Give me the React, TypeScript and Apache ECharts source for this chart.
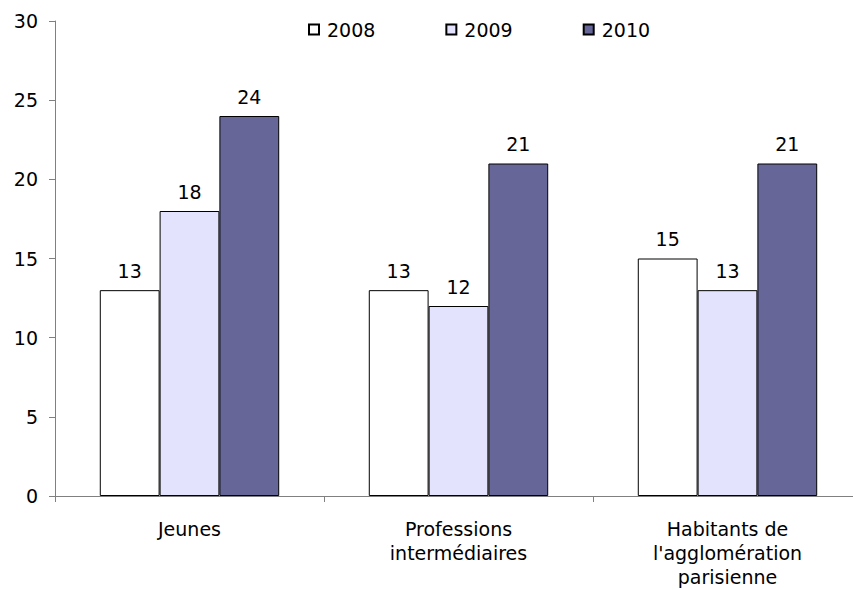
import React, { useEffect, useRef } from "react";
import * as echarts from "echarts";

const categories = ["Jeunes", "Professions\nintermédiaires", "Habitants de\nl'agglomération\nparisienne"];
const years = ["2008", "2009", "2010"];
const values2008 = [13, 13, 15];
const values2009 = [18, 12, 13];
const values2010 = [24, 21, 21];
const colors = ["#FFFFFF", "#E3E3FD", "#666699"];

const FONT = "'DejaVu Sans', Verdana, sans-serif";
const FS = 19;

export default function App() {
  const ref = useRef<HTMLDivElement>(null);
  useEffect(() => {
    const chart = echarts.init(ref.current!, undefined, { renderer: "svg" });
    const seriesData = [values2008, values2009, values2010];
    chart.setOption({
      animation: false,
      backgroundColor: "#FFFFFF",
      textStyle: { fontFamily: FONT },
      legend: {
        data: years,
        left: 303,
        top: 15,
        itemWidth: 10,
        itemHeight: 10,
        itemGap: 70,
        icon: "rect",
        textStyle: { fontSize: FS, color: "#000", fontFamily: FONT, padding: [0, 0, 0, 3] },
      },
      grid: { left: 55, right: -9, top: 21, bottom: 94, containLabel: false, outerBoundsMode: "none" },
      xAxis: {
        type: "category",
        data: categories,
        boundaryGap: true,
        axisLine: { lineStyle: { color: "#808080", width: 1 } },
        axisTick: { show: true, alignWithLabel: false, length: 6, lineStyle: { color: "#808080" } },
        axisLabel: { color: "#000", fontSize: FS, fontFamily: FONT, margin: 21, lineHeight: 24, interval: 0 },
      },
      yAxis: {
        type: "value",
        min: 0,
        max: 30,
        interval: 5,
        splitLine: { show: false },
        axisLine: { show: true, lineStyle: { color: "#808080", width: 1 } },
        axisTick: { show: true, length: 6, lineStyle: { color: "#808080" } },
        axisLabel: { color: "#000", fontSize: FS, fontFamily: FONT, margin: 17 },
      },
      series: years.map((y, i) => ({
        name: y,
        type: "bar",
        data: seriesData[i],
        barGap: "0%",
        barCategoryGap: "33.3%",
        itemStyle: { color: colors[i], borderColor: "#000", borderWidth: 1 },
        label: { show: true, position: "top", distance: 10, color: "#000", fontSize: FS, fontFamily: FONT },
      })),
    });
    return () => chart.dispose();
  }, []);
  return <div ref={ref} style={{ position: "fixed", left: 0, top: 0, width: 853, height: 590 }} />;
}
